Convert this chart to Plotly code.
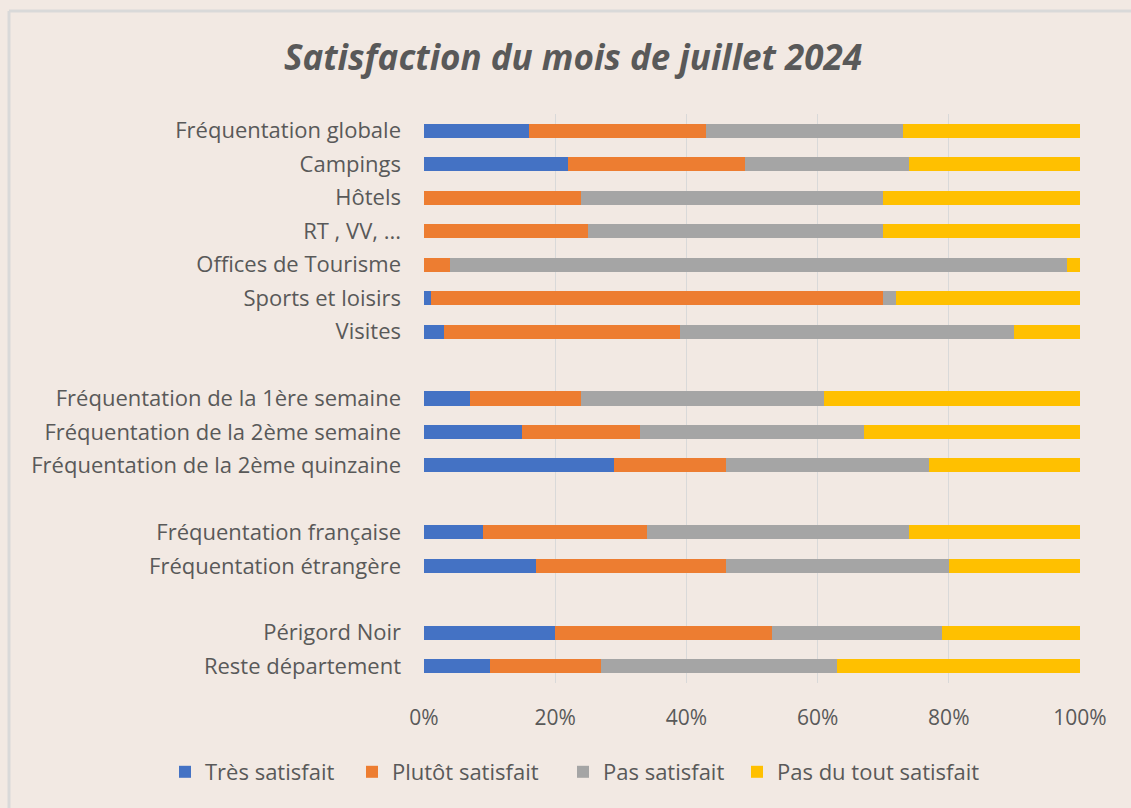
import plotly.graph_objects as go

categories = [
    "Fréquentation globale", "Campings", "Hôtels", "RT , VV, ...",
    "Offices de Tourisme", "Sports et loisirs", "Visites", " ",
    "Fréquentation de la 1ère semaine", "Fréquentation de la 2ème semaine",
    "Fréquentation de la 2ème quinzaine", "  ",
    "Fréquentation française", "Fréquentation étrangère", "   ",
    "Périgord Noir", "Reste département",
]
tres_satisfait = [16, 22, 0, 0, 0, 1, 3, None, 7, 15, 29, None, 9, 17, None, 20, 10]
plutot_satisfait = [27, 27, 24, 25, 4, 69, 36, None, 17, 18, 17, None, 25, 29, None, 33, 17]
pas_satisfait = [30, 25, 46, 45, 94, 2, 51, None, 37, 34, 31, None, 40, 34, None, 26, 36]
pas_du_tout = [27, 26, 30, 30, 2, 28, 10, None, 39, 33, 23, None, 26, 20, None, 21, 37]

tick_values = [0, 20, 40, 60, 80, 100]
tick_labels = ["0%", "20%", "40%", "60%", "80%", "100%"]

series = [
    ("Très satisfait", tres_satisfait, "#4472C4"),
    ("Plutôt satisfait", plutot_satisfait, "#ED7D31"),
    ("Pas satisfait", pas_satisfait, "#A5A5A5"),
    ("Pas du tout satisfait", pas_du_tout, "#FFC000"),
]

BG = "#F2E9E3"
TXT = "#595959"
FONT = "Open Sans"

L, R, T, B = 424, 1080, 114, 683
PW, PH = R - L, B - T

# left edge (px) of each legend entry
legend_px = [165, 352, 563, 737]
legend_ids = ["legend", "legend2", "legend3", "legend4"]

fig = go.Figure()
for (name, vals, col), lid in zip(series, legend_ids):
    fig.add_trace(go.Bar(
        y=categories, x=vals, name=name, orientation="h",
        marker=dict(color=col, line=dict(width=0)), legend=lid,
    ))

legend_common = dict(
    orientation="h", xanchor="left", y=(B - 772) / PH, yanchor="middle",
    font=dict(family=FONT, size=22, color=TXT), bgcolor="rgba(0,0,0,0)",
    itemwidth=30,
)
legends = {}
for lid, px in zip(legend_ids, legend_px):
    legends[lid] = dict(legend_common, x=(px - L) / PW)

fig.update_layout(
    width=1131, height=808,
    barmode="stack", barnorm="percent", bargap=0.58,
    paper_bgcolor=BG, plot_bgcolor=BG,
    margin=dict(l=L, r=1131 - R, t=T, b=808 - B, autoexpand=False),
    font=dict(family=FONT, color=TXT, size=21),
    title=dict(
        text="<b><i>Satisfaction du mois de juillet 2024</i></b>",
        x=573 / 1131, xanchor="center", y=1 - 58 / 808, yanchor="middle",
        font=dict(family=FONT, size=35, color=TXT),
    ),
    xaxis=dict(
        range=[0, 100], tickvals=tick_values, ticktext=tick_labels,
        showgrid=True, gridcolor="#D9D9D9", gridwidth=1,
        zeroline=False, showline=False, ticks="",
        tickfont=dict(size=21, color=TXT), ticklabelstandoff=20,
    ),
    yaxis=dict(
        categoryorder="array", categoryarray=categories,
        autorange="reversed", showgrid=False, zeroline=False,
        showline=False, ticks="", ticklabelstandoff=22,
        tickfont=dict(size=22, color=TXT),
    ),
    showlegend=True,
    **legends,
)

# outer chart frame
fx = (9 - L) / PW
fy = (B - 11) / PH
fig.add_shape(type="line", xref="paper", yref="paper",
              x0=fx, x1=1.2, y0=fy, y1=fy,
              line=dict(color="#D9D9D9", width=3))
fig.add_shape(type="line", xref="paper", yref="paper",
              x0=fx, x1=fx, y0=fy, y1=-0.4,
              line=dict(color="#D9D9D9", width=3))

fig.write_html(
    "out.html",
    config={"displayModeBar": False},
    post_script="document.body.style.margin='0';document.body.style.background='%s';" % BG,
)
